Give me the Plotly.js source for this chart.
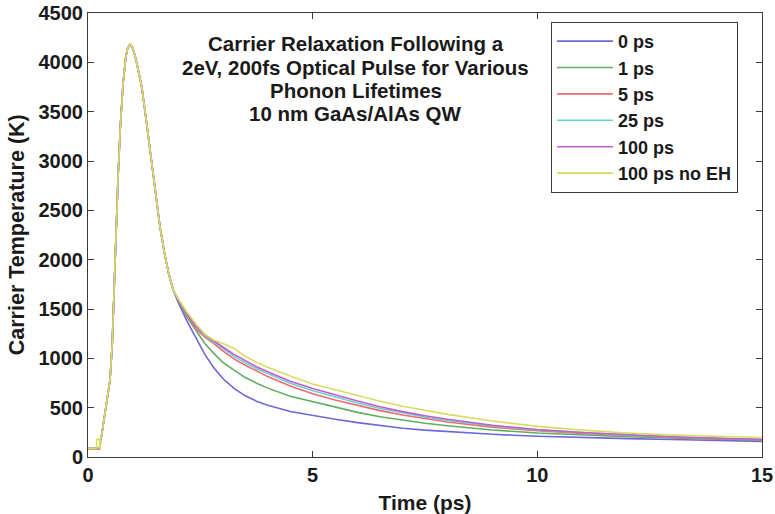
<!DOCTYPE html>
<html>
<head>
<meta charset="utf-8">
<script src="https://cdn.plot.ly/plotly-3.0.1.min.js"></script>
<style>
  html, body { margin: 0; padding: 0; background: #ffffff; }
  #chart { width: 775px; height: 514px; }
</style>
</head>
<body>
<div id="chart"></div>
<script>
// Shared part of the transient: baseline, pulse-driven heating and early cooling (ps, K)
const riseTime = [0, 0.27, 0.275, 0.3, 0.35, 0.4, 0.45, 0.49, 0.54, 0.58, 0.62, 0.67, 0.72, 0.78, 0.84, 0.88, 0.93, 0.98, 1.04, 1.1, 1.2, 1.3, 1.4, 1.5, 1.6, 1.7, 1.8, 1.9];
const riseTemp = [85, 85, 175, 210, 360, 510, 650, 780, 1150, 1600, 2200, 2850, 3350, 3780, 4050, 4140, 4180, 4160, 4080, 3960, 3740, 3400, 3030, 2660, 2340, 2070, 1850, 1690];

// Small early blip only seen without electron-hole scattering
const noEhBlipTime = [0.19, 0.19, 0.255, 0.255];
const noEhBlipTemp = [85, 180, 180, 85];

// Cooling tail, where the phonon lifetimes separate the curves
const tailTime = [2.0, 2.2, 2.4, 2.6, 2.8, 3.0, 3.25, 3.5, 3.75, 4.0, 4.5, 5.0, 5.5, 6.0, 6.5, 7.0, 7.5, 8.0, 9.0, 10.0, 11.0, 12.0, 13.0, 14.0, 15.0];
const tail0ps       = [1575, 1380, 1205, 1040, 905, 795, 695, 620, 566, 525, 462, 420, 382, 348, 318, 292, 272, 256, 230, 210, 196, 186, 177, 168, 158];
const tail1ps       = [1590, 1420, 1280, 1150, 1050, 960, 880, 805, 748, 698, 615, 560, 502, 452, 408, 372, 342, 316, 274, 243, 222, 205, 192, 180, 170];
const tail5ps       = [1600, 1440, 1300, 1215, 1150, 1075, 995, 930, 870, 815, 720, 640, 578, 522, 470, 425, 388, 355, 303, 266, 238, 216, 199, 186, 175];
const tail25ps      = [1600, 1450, 1320, 1230, 1165, 1100, 1020, 955, 895, 845, 748, 672, 608, 548, 492, 445, 405, 370, 314, 274, 245, 222, 204, 190, 178];
const tail100ps     = [1600, 1450, 1325, 1240, 1175, 1115, 1040, 975, 915, 865, 768, 695, 630, 568, 510, 460, 418, 382, 322, 278, 248, 224, 205, 190, 178];
const tail100psNoEh = [1610, 1470, 1350, 1245, 1185, 1150, 1100, 1020, 960, 910, 820, 740, 680, 620, 565, 515, 470, 432, 365, 310, 272, 243, 222, 208, 198];

const seriesNames = ['0 ps', '1 ps', '5 ps', '25 ps', '100 ps', '100 ps no EH'];
const seriesColors = ['#6f66d8', '#5fae5f', '#f26a6a', '#66d2d2', '#c25ccc', '#d9dc62'];
const seriesTails = [tail0ps, tail1ps, tail5ps, tail25ps, tail100ps, tail100psNoEh];

const titleLines = [
  'Carrier Relaxation Following a',
  '2eV, 200fs Optical Pulse for Various',
  'Phonon Lifetimes',
  '10 nm GaAs/AlAs QW'
];
const yTitle = 'Carrier Temperature (K)';
const xTitle = 'Time (ps)';

const FONT = 'Liberation Sans, Arial, Helvetica, sans-serif';
const INK = '#1a1a1a';

const traces = seriesNames.map((name, i) => {
  let x, y;
  if (i === 5) {
    x = [0].concat(noEhBlipTime, riseTime.slice(1), tailTime);
    y = [85].concat(noEhBlipTemp, riseTemp.slice(1), seriesTails[i]);
  } else {
    x = riseTime.concat(tailTime);
    y = riseTemp.concat(seriesTails[i]);
  }
  return {
    type: 'scatter',
    mode: 'lines',
    name: name,
    x: x,
    y: y,
    line: { color: seriesColors[i], width: 1.6 },
    hoverinfo: 'skip'
  };
});

// Multi-line heading inside the axes, one annotation per line for tight spacing
const titleAnnotations = titleLines.map((txt, k) => ({
  text: '<b>' + txt + '</b>',
  xref: 'paper', yref: 'paper',
  x: 0.397, y: 1 - (44 + 23 * k - 13) / 444,
  xanchor: 'center', yanchor: 'middle',
  showarrow: false,
  font: { family: FONT, size: 20.5, color: INK }
}));

// Vertical axis label, set a little further out than the default placement
const yTitleAnnotation = {
  text: '<b>' + yTitle + '</b>',
  xref: 'paper', yref: 'paper',
  x: -0.105, y: 0.5,
  xanchor: 'center', yanchor: 'middle',
  textangle: -90,
  showarrow: false,
  font: { family: FONT, size: 21.5, color: INK }
};

const axisCommon = {
  showgrid: false,
  zeroline: false,
  showline: true,
  linecolor: '#3a3a3a',
  linewidth: 1,
  mirror: 'ticks',
  ticks: 'inside',
  ticklen: 6,
  tickcolor: '#3a3a3a',
  automargin: false,
  tickfont: { family: FONT, size: 20, color: INK, weight: 'bold' }
};

const layout = {
  width: 775,
  height: 514,
  margin: { l: 88, r: 13, t: 13, b: 57 },
  paper_bgcolor: '#ffffff',
  plot_bgcolor: '#ffffff',
  showlegend: true,
  xaxis: Object.assign({}, axisCommon, {
    range: [0, 15],
    dtick: 5,
    tick0: 0,
    title: { text: '<b>' + xTitle + '</b>', font: { family: FONT, size: 21, color: INK } }
  }),
  yaxis: Object.assign({}, axisCommon, {
    range: [0, 4500],
    dtick: 500,
    tick0: 0
  }),
  legend: {
    x: 0.687, y: 0.98,
    xanchor: 'left', yanchor: 'top',
    bgcolor: '#ffffff',
    bordercolor: '#3a3a3a',
    borderwidth: 1,
    itemwidth: 56,
    font: { family: FONT, size: 18, color: INK, weight: 'bold' }
  },
  annotations: titleAnnotations.concat([yTitleAnnotation])
};

Plotly.newPlot('chart', traces, layout, { displayModeBar: false, staticPlot: true });
</script>
</body>
</html>
